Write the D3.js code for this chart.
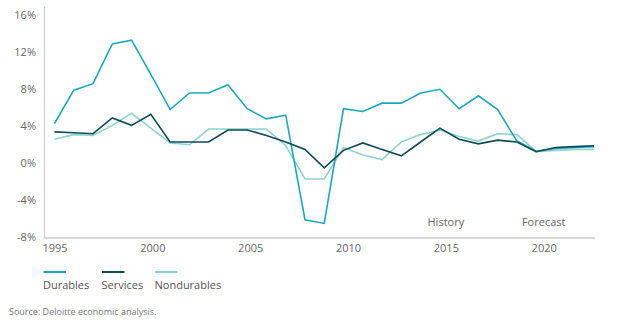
<!DOCTYPE html>
<html>
<head>
<meta charset="utf-8">
<script src="https://cdn.jsdelivr.net/npm/d3@7"></script>
<style>
  body { margin: 0; background: #fff; }
  svg text { font-family: "Open Sans", sans-serif; }
</style>
</head>
<body>
<div id="chart"></div>
<script>
// Annual growth rates (last three years are forecast)
var years = [1995, 1996, 1997, 1998, 1999, 2000, 2001, 2002, 2003, 2004, 2005, 2006, 2007, 2008, 2009,
             2010, 2011, 2012, 2013, 2014, 2015, 2016, 2017, 2018, 2019, 2020, 2021, 2022, 2023];
var durables = [4.3, 7.9, 8.6, 12.9, 13.3, 9.6, 5.8, 7.6, 7.6, 8.5, 5.9, 4.8, 5.2, -6.1, -6.5,
                5.9, 5.6, 6.5, 6.5, 7.6, 8.0, 5.9, 7.3, 5.8, 2.4, 1.3, 1.6, 1.7, 1.8];
var services = [3.4, 3.3, 3.2, 4.9, 4.1, 5.3, 2.3, 2.3, 2.3, 3.6, 3.6, 3.0, 2.3, 1.5, -0.5,
                1.4, 2.2, 1.5, 0.8, 2.3, 3.8, 2.6, 2.1, 2.5, 2.3, 1.25, 1.7, 1.8, 1.9];
var nondurables = [2.6, 3.1, 3.0, 4.1, 5.4, 3.8, 2.2, 2.0, 3.7, 3.7, 3.7, 3.7, 1.9, -1.7, -1.7,
                   1.7, 0.9, 0.4, 2.3, 3.1, 3.6, 2.9, 2.4, 3.2, 3.1, 1.25, 1.4, 1.5, 1.5];
var seriesNames = ["Durables", "Services", "Nondurables"];
var yTickValues = [-8, -4, 0, 4, 8, 12, 16];
var xTickValues = [1995, 2000, 2005, 2010, 2015, 2020];
var periodLabels = [{ text: "History", year: 2015 }, { text: "Forecast", year: 2020 }];
var source = "Source: Deloitte economic analysis.";

var colors = ["#19a9bf", "#0e4b58", "#8fd4cc"];

var width = 629;
var height = 329;

var svg = d3.select("#chart")
    .append("svg")
        .attr("width", width)
        .attr("height", height);

var x = d3.scaleLinear()
    .domain([1995, 2023])
    .range([54.5, 594]);

var y = d3.scaleLinear()
    .domain([-8, 17])
    .range([237.3, 6]);

// y axis: labels only plus a light line
var yAxis = d3.axisLeft(y)
    .tickValues(yTickValues)
    .tickSize(0)
    .tickPadding(8)
    .tickFormat(function(d) { return d + "%"; });

var gy = svg.append("g")
    .attr("transform", "translate(44,0)")
    .call(yAxis);
gy.select(".domain").attr("stroke", "#cfcfcf").attr("stroke-width", 1.2);
gy.selectAll("text").attr("fill", "#666").style("font-size", "11px");

var xAxis = d3.axisBottom(x)
    .tickValues(xTickValues)
    .tickSize(0)
    .tickPadding(6)
    .tickFormat(d3.format("d"));

var gx = svg.append("g")
    .attr("transform", "translate(0,238)")
    .call(xAxis);
gx.select(".domain").attr("d", "M44,0H595").attr("stroke", "#c8c8c8").attr("stroke-width", 1.5);
// labels in the original drift a little right of the data points
gx.selectAll("text")
    .attr("fill", "#666")
    .attr("dx", function(d) { return (d - 1995) * 0.3; })
    .style("font-size", "11px");

// History / Forecast labels
svg.selectAll(".period")
    .data(periodLabels)
    .enter().append("text")
        .attr("class", "period")
        .attr("x", function(d) { return x(d.year) + (d.year - 1995) * 0.3; })
        .attr("y", 226)
        .attr("text-anchor", "middle")
        .attr("fill", "#666")
        .style("font-size", "11px")
        .text(function(d) { return d.text; });

var allSeries = [durables, services, nondurables];

var line = d3.line()
    .x(function(d, i) { return x(years[i]); })
    .y(function(d) { return y(d); });

// draw light ones first so the dark line sits on top like the original
svg.selectAll(".series")
    .data([2, 0, 1])
    .enter().append("path")
        .attr("class", "series")
        .attr("d", function(k) { return line(allSeries[k]); })
        .attr("fill", "none")
        .attr("stroke", function(k) { return colors[k]; })
        .attr("stroke-width", 1.6)
        .attr("stroke-linejoin", "miter");

// legend
var legendX = [43, 101.5, 154.5];
var legend = svg.selectAll(".legend")
    .data(seriesNames)
    .enter().append("g")
        .attr("class", "legend")
        .attr("transform", function(d, i) { return "translate(" + legendX[i] + ",0)"; });

legend.append("line")
    .attr("x1", 0.5)
    .attr("x2", 23)
    .attr("y1", 272)
    .attr("y2", 272)
    .attr("stroke", function(d, i) { return colors[i]; })
    .attr("stroke-width", 2);

legend.append("text")
    .attr("x", 0)
    .attr("y", 289)
    .attr("fill", "#555")
    .style("font-size", "11px")
    .text(function(d) { return d; });

svg.append("text")
    .attr("x", 9)
    .attr("y", 315)
    .attr("fill", "#777")
    .style("font-size", "9px")
    .text(source);
</script>
</body>
</html>
